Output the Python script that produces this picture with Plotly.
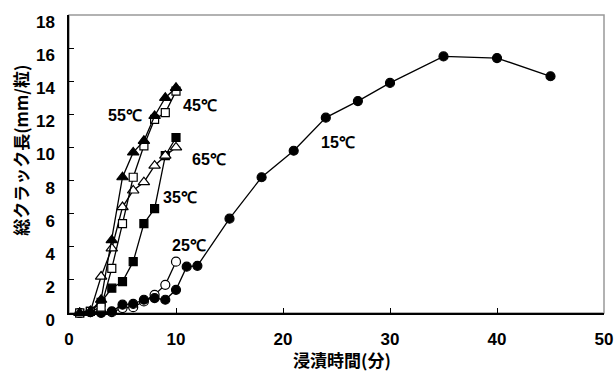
import plotly.graph_objects as go

# Immersion time (min) and total crack length (mm/grain) per soaking temperature
t_short = [1, 2, 3, 4, 5, 6, 7, 8, 9, 10]
t_15 = [1, 2, 3, 4, 5, 6, 7, 8, 9, 10, 11, 12, 15, 18, 21, 24, 27, 30, 35, 40, 45]

crack_15 = [0, 0.05, 0, 0.1, 0.5, 0.55, 0.8, 0.9, 0.8, 1.4, 2.8, 2.85,
            5.7, 8.2, 9.8, 11.8, 12.8, 13.9, 15.5, 15.4, 14.3]
crack_25 = [0, 0.05, 0.05, 0.05, 0.3, 0.35, 0.7, 1.1, 1.7, 3.1]
crack_35 = [0, 0.1, 0.65, 1.5, 1.9, 3.1, 5.4, 6.3, 9.5, 10.6]
crack_45 = [0, 0.1, 0.35, 2.7, 5.4, 8.2, 10.1, 11.7, 12.1, 13.4]
crack_55 = [0, 0.1, 0.8, 4.4, 8.2, 9.7, 10.4, 11.9, 13.0, 13.6]
crack_65 = [0, 0.1, 2.2, 3.9, 6.4, 7.4, 7.9, 8.9, 9.5, 10.0]

# Series label text and where it sits (x, y in data units)
series_labels = ["55℃", "45℃", "65℃", "35℃", "25℃", "15℃"]
label_x = [5.25, 12.2, 13.1, 10.4, 11.2, 25.1]
label_y = [11.95, 12.55, 9.25, 6.95, 4.1, 10.3]

x_ticks = [0, 10, 20, 30, 40, 50]
y_ticks = [0, 2, 4, 6, 8, 10, 12, 14, 16, 18]

x_title = "浸漬時間(分)"
y_title = "総クラック長(mm/粒)"

JP = "Noto Sans CJK JP"
LAT = "Liberation Sans"
TICK = "Liberation Sans Narrow, Liberation Sans"

fig = go.Figure()


def add_series(x, y, symbol, filled, size=9):
    fig.add_trace(go.Scatter(
        x=x, y=y, mode="lines+markers",
        line=dict(color="black", width=1.3),
        marker=dict(symbol=symbol, size=size,
                    color="black" if filled else "white",
                    line=dict(color="black", width=1.2)),
        showlegend=False, cliponaxis=False,
    ))


add_series(t_short, crack_25, "circle", False)
add_series(t_15, crack_15, "circle", True)
add_series(t_short, crack_35, "square", True, 8)
add_series(t_short, crack_65, "triangle-up", False, 10)
add_series(t_short, crack_45, "square", False, 8)
add_series(t_short, crack_55, "triangle-up", True, 10)

for txt, lx, ly in zip(series_labels, label_x, label_y):
    fig.add_annotation(x=lx, y=ly, text=txt, showarrow=False,
                       font=dict(family=LAT, size=16, color="black", weight="bold"))

# axis titles placed as paper-anchored text
fig.add_annotation(xref="paper", yref="paper", x=0.51, y=-0.157, text=x_title,
                   showarrow=False, xanchor="center", yanchor="middle",
                   font=dict(family=JP, size=17, color="black", weight="bold"))
fig.add_annotation(xref="paper", yref="paper", x=-0.09, y=0.547, text=y_title,
                   showarrow=False, xanchor="center", yanchor="middle", textangle=-90,
                   font=dict(family=JP, size=17, color="black", weight="bold"))

# light grey frame, black axes drawn over it
fig.add_shape(type="rect", xref="paper", yref="paper", x0=0, y0=0, x1=1, y1=1,
              line=dict(color="#999999", width=1.5), layer="below")

fig.update_layout(
    width=614, height=372,
    margin=dict(l=69, r=10, t=15, b=59),
    paper_bgcolor="white", plot_bgcolor="white",
    font=dict(family=LAT, color="black"),
)
fig.update_xaxes(
    range=[0, 50], tickvals=x_ticks, showgrid=False, zeroline=False,
    showline=True, linecolor="black", linewidth=1.5,
    ticks="inside", ticklen=5, tickcolor="black",
    tickfont=dict(family=TICK, size=17, weight="bold"),
    ticklabelstandoff=10, automargin=False,
)
fig.update_yaxes(
    range=[0, 18], tickvals=y_ticks, showgrid=False, zeroline=False,
    showline=True, linecolor="black", linewidth=1.5,
    ticks="inside", ticklen=5, tickcolor="black",
    tickfont=dict(family=TICK, size=17, weight="bold"),
    ticklabelshift=7, ticklabelstandoff=9, automargin=False,
)

fig.write_html("out.html")
